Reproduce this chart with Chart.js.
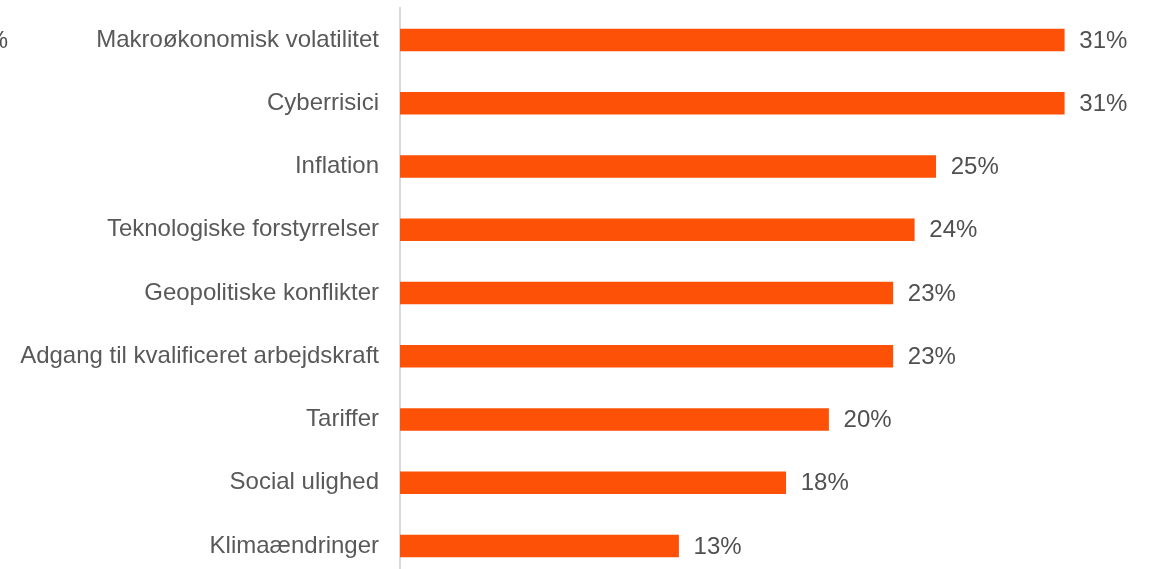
<!DOCTYPE html>
<html>
<head>
<meta charset="utf-8">
<script src="https://cdn.jsdelivr.net/npm/chart.js@4"></script>
<style>
  html, body { margin: 0; padding: 0; background: #fff; overflow: hidden; width: 1150px; height: 569px; }
  #wrap { position: relative; width: 1150px; height: 586px; }
  #cut { position: absolute; left: -40px; top: 26px; font: 24px "Liberation Sans", Arial, sans-serif; color: #505050; white-space: nowrap; line-height: 28px; }
</style>
</head>
<body>
<div id="wrap">
  <canvas id="c" width="1150" height="586"></canvas>
  <span id="cut">31%</span>
</div>
<script>
const categories = [
  "Makroøkonomisk volatilitet",
  "Cyberrisici",
  "Inflation",
  "Teknologiske forstyrrelser",
  "Geopolitiske konflikter",
  "Adgang til kvalificeret arbejdskraft",
  "Tariffer",
  "Social ulighed",
  "Klimaændringer"
];
const values = [31, 31, 25, 24, 23, 23, 20, 18, 13];
const valueLabels = ["31%", "31%", "25%", "24%", "23%", "23%", "20%", "18%", "13%"];

const FONT = '"Liberation Sans", Arial, sans-serif';

const endLabels = {
  id: 'endLabels',
  afterDatasetsDraw(chart) {
    const ctx = chart.ctx;
    const meta = chart.getDatasetMeta(0);
    ctx.save();
    ctx.font = '24px ' + FONT;
    ctx.fillStyle = '#505050';
    ctx.textAlign = 'left';
    ctx.textBaseline = 'middle';
    meta.data.forEach((bar, i) => {
      ctx.fillText(valueLabels[i], bar.x + 15, bar.y + 1);
    });
    ctx.restore();
  }
};

new Chart(document.getElementById('c'), {
  type: 'bar',
  data: {
    labels: categories,
    datasets: [{
      data: values,
      backgroundColor: '#FD5108',
      borderWidth: 0,
      barThickness: 22
    }]
  },
  options: {
    indexAxis: 'y',
    responsive: false,
    animation: false,
    devicePixelRatio: 1,
    layout: { padding: { top: 8.4, bottom: 8.4, left: 0, right: 0 } },
    plugins: { legend: { display: false }, tooltip: { enabled: false } },
    scales: {
      x: { display: false, min: 0, max: 35 },
      y: {
        afterFit(scale) { scale.width = 400; scale.paddingTop = 0; scale.paddingBottom = 0; },
        grid: { display: false, drawTicks: false },
        border: { display: true, color: '#d9d9d9', width: 2 },
        ticks: {
          padding: 21,
          color: '#595959',
          font: { size: 24, family: FONT }
        }
      }
    }
  },
  plugins: [endLabels]
});
</script>
</body>
</html>
